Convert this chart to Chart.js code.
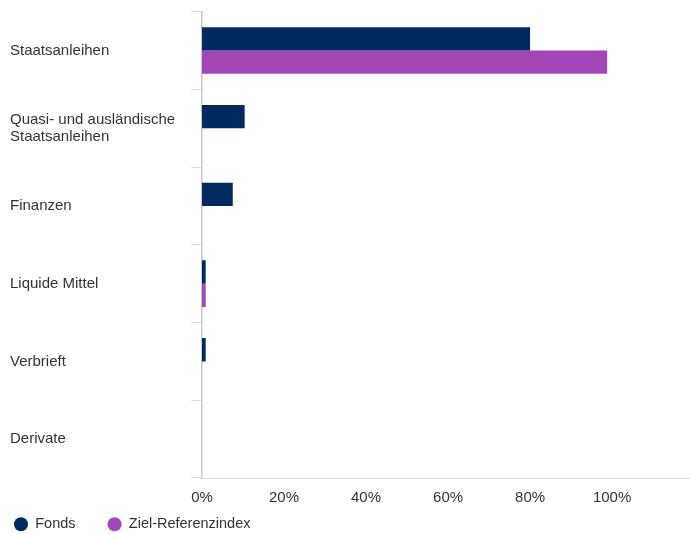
<!DOCTYPE html>
<html>
<head>
<meta charset="utf-8">
<script src="https://cdn.jsdelivr.net/npm/chart.js@4.4.0/dist/chart.umd.min.js"></script>
<style>
  html, body { margin: 0; padding: 0; background: #fff; }
  #wrap { width: 690px; height: 534px; }
</style>
</head>
<body>
<div id="wrap"><canvas id="sectorChart"></canvas></div>
<script>
// Sektoren: Fonds vs. Ziel-Referenzindex (in %)
const categories = [
  "Staatsanleihen",
  ["Quasi- und ausländische", "Staatsanleihen"],
  "Finanzen",
  "Liquide Mittel",
  "Verbrieft",
  "Derivate",
];
const fondsValues = [80.0, 10.4, 7.5, 0.9, 0.9, 0];
const indexValues = [98.8, 0, 0, 0.9, 0, 0];
const xTicks = [0, 20, 40, 60, 80, 100];

const FONT = "'Liberation Sans', Arial, sans-serif";
const LEGEND_PAD = 32; // gap between legend items
const LEGEND_H = 22;

// wide gaps between legend items without the legend taking much height
const legendShift = {
  id: "legendShift",
  beforeLayout(chart) {
    const lg = chart.legend;
    if (lg && !lg._fitPatched) {
      const fit = lg.fit.bind(lg);
      lg.fit = function () {
        fit();
        this.height = LEGEND_H;
      };
      lg._fitPatched = true;
    }
  },
  afterLayout(chart) {
    const lg = chart.legend;
    lg.left = 14 - LEGEND_PAD;
    lg.top = lg.top - LEGEND_PAD + 5;
  },
};

const ctx = document.getElementById("sectorChart").getContext("2d");
new Chart(ctx, {
  type: "bar",
  data: {
    labels: categories,
    datasets: [
      {
        label: "Fonds",
        data: fondsValues,
        backgroundColor: "#002a5e",
        categoryPercentage: 0.6,
        barPercentage: 1,
      },
      {
        label: "Ziel-Referenzindex",
        data: indexValues,
        backgroundColor: "#a346b8",
        categoryPercentage: 0.6,
        barPercentage: 1,
      },
    ],
  },
  options: {
    indexAxis: "y",
    responsive: true,
    maintainAspectRatio: false,
    animation: false,
    layout: {
      padding: { top: 10, left: 10, right: 0, bottom: 0 },
    },
    scales: {
      x: {
        min: 0,
        max: 119,
        afterBuildTicks: (scale) => {
          scale.ticks = xTicks.map((v) => ({ value: v }));
        },
        afterFit: (scale) => {
          scale.height = 34;
        },
        ticks: {
          callback: (v) => v + "%",
          color: "#333",
          padding: 11,
          font: { size: 15, family: FONT },
        },
        grid: { display: false, drawTicks: false },
        border: { display: true, color: "#d6dbe6", width: 1 },
      },
      y: {
        afterFit: (scale) => {
          scale.width = 192;
        },
        ticks: {
          crossAlign: "far",
          color: "#333",
          font: { size: 15, family: FONT, lineHeight: 1.15 },
        },
        grid: {
          drawOnChartArea: false,
          drawTicks: true,
          tickLength: 11,
          color: "#d6dbe6",
        },
        border: { display: true, color: "#c8c8c8", width: 1.5 },
      },
    },
    plugins: {
      legend: {
        position: "bottom",
        align: "start",
        labels: {
          usePointStyle: true,
          pointStyle: "circle",
          boxWidth: 14,
          boxHeight: 10,
          pointStyleWidth: 14,
          padding: LEGEND_PAD,
          color: "#333",
          font: { size: 14.5, family: FONT },
        },
      },
      tooltip: { enabled: false },
    },
  },
  plugins: [legendShift],
});
</script>
</body>
</html>
